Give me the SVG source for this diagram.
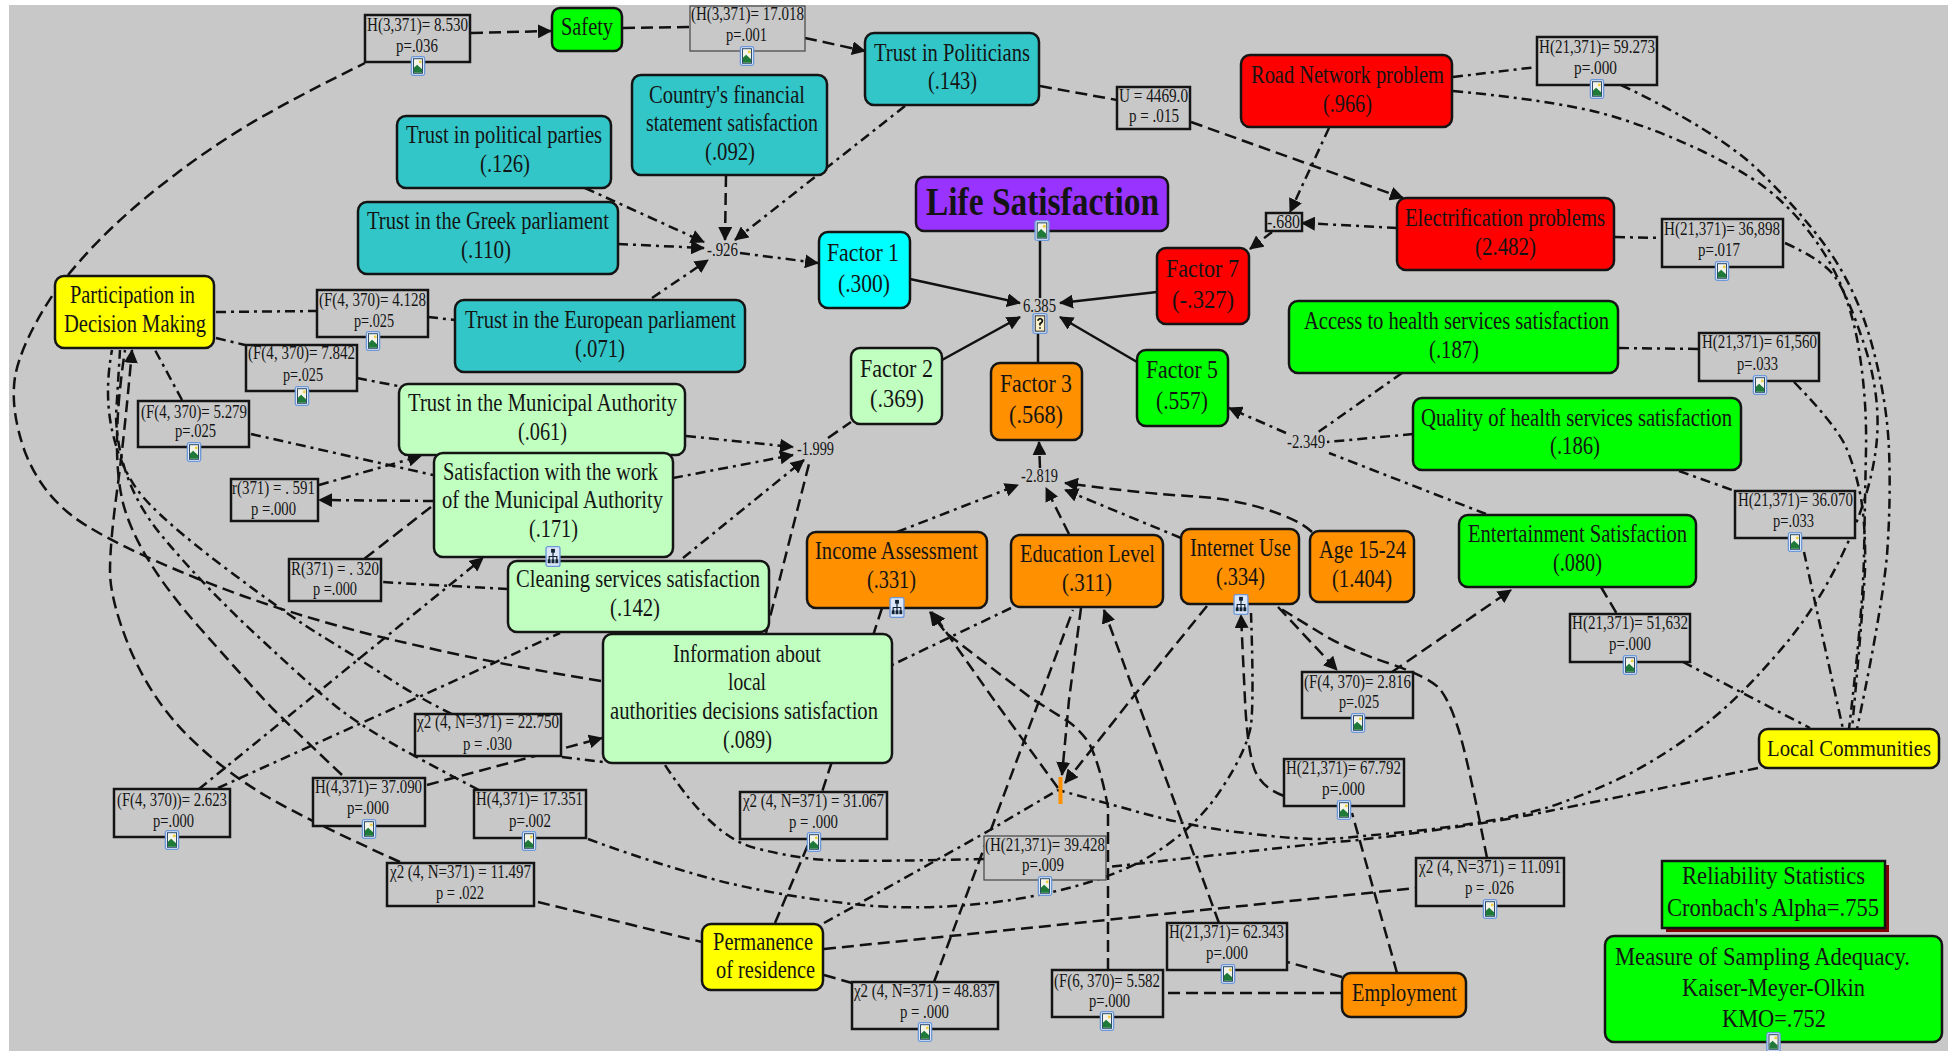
<svg xmlns="http://www.w3.org/2000/svg" width="1948" height="1051" viewBox="0 0 1948 1051">
<style>
text{font-family:"Liberation Serif","Times New Roman",serif;fill:#141414}
.n{font-size:25px}
.s{font-size:18.5px}
.t{font-size:41px;font-weight:bold}
.lc{font-size:22.5px}
.b{stroke:#141414;stroke-width:2.5}
.st{fill:#c8c8c8;stroke:#141414;stroke-width:2.5}
.thin{stroke:#444;stroke-width:1.2}
.teal{fill:#32c6c8}.red{fill:#ff0000}.green{fill:#00ff00}.orange{fill:#ff9000}.pale{fill:#c0ffc0}.yellow{fill:#ffff00}.purple{fill:#9933ff}.cyan{fill:#00ffff}
#connectors path{fill:none;stroke:#111;stroke-width:2.5}
#connectors .d{stroke-dasharray:12 6}
#connectors .dd{stroke-dasharray:10 5 3 5}
#connectors .ar{marker-end:url(#arrow)}
</style>
<defs>
<marker id="arrow" viewBox="0 0 14 14" refX="13" refY="7" markerWidth="14" markerHeight="14" markerUnits="userSpaceOnUse" orient="auto"><path d="M0 0L14 7L0 14z" fill="#111"/></marker>
<symbol id="pic" viewBox="0 0 16 22"><rect x=".7" y=".7" width="14.6" height="20.6" rx="2" fill="#dbe7f8" stroke="#6c97d8" stroke-width="1.4"/><rect x="3" y="3" width="10" height="16" fill="#f4f4e8" stroke="#1d3d5c"/><circle cx="10.5" cy="6.5" r="1.6" fill="#f0d040"/><path d="M3.5 18.5V13L7 9.5 12.5 14.5V18.5z" fill="#1f7a3a"/></symbol>
<symbol id="help" viewBox="0 0 16 22"><rect x=".7" y=".7" width="14.6" height="20.6" rx="2" fill="#dbe7f8" stroke="#6c97d8" stroke-width="1.4"/><rect x="3" y="3" width="10" height="16" fill="#f8f0c8" stroke="#222"/><path d="M5.5 8Q8 4 10.5 7.5 10.5 10 8 11V13M8 15V16.5" fill="none" stroke="#111" stroke-width="1.8"/></symbol>
<symbol id="tree" viewBox="0 0 16 22"><rect x=".7" y=".7" width="14.6" height="20.6" rx="2" fill="#dbe7f8" stroke="#6c97d8" stroke-width="1.4"/><path d="M8 6V10M4 15V11H12V15M8 10V15" fill="none" stroke="#123" stroke-width="1.2"/><rect x="6" y="3" width="4" height="4" fill="#123"/><rect x="2.500" y="14" width="3" height="4" fill="#123"/><rect x="6.500" y="14" width="3" height="4" fill="#123"/><rect x="10.500" y="14" width="3" height="4" fill="#123"/></symbol>
</defs>
<rect width="1948" height="1051" fill="#ffffff"/>
<rect id="background" x="9" y="5" width="1939" height="1046" fill="#c8c8c8"/>
<g id="connectors">
<path class="d ar" d="M471 33L551 31"/>
<path class="d" d="M623 28L689 27"/>
<path class="d ar" d="M805 38L865 51"/>
<path class="d" d="M68 275Q91 247 118 222Q145 197 176 174Q207 150 248 125Q290 100 365 63"/>
<path class="dd ar" d="M905 106L735 240"/>
<path class="d ar" d="M726 175L725 240"/>
<path class="dd ar" d="M585 188L704 242"/>
<path class="dd ar" d="M618 244L704 248"/>
<path class="dd ar" d="M652 298L708 260"/>
<path class="dd ar" d="M740 253L818 263"/>
<path class="ar" d="M910 279L1020 303"/>
<path d="M1040 239V298"/>
<path class="ar" d="M1157 292L1060 303"/>
<path class="ar" d="M942 360L1020 317"/>
<path d="M1038 363V333"/>
<path class="ar" d="M1137 362L1060 317"/>
<path class="d" d="M1040 86L1117 100"/>
<path class="d ar" d="M1191 122L1403 198"/>
<path class="dd ar" d="M1329 128L1290 212"/>
<path class="dd ar" d="M1397 228L1302 223"/>
<path class="dd ar" d="M1272 232L1250 249"/>
<path class="dd" d="M1453 77L1537 67"/>
<path class="dd" d="M1453 91Q1549 100 1601 113Q1652 127 1704 152Q1756 177 1782 202Q1809 227 1830 263Q1851 300 1859 350Q1867 400 1866 450Q1865 500 1864 555Q1863 610 1849 729"/>
<path class="dd" d="M1621 85Q1715 130 1756 168Q1797 207 1827 248Q1857 290 1872 345Q1887 400 1889 450Q1891 500 1887 555Q1882 610 1857 729"/>
<path class="dd" d="M1785 243Q1823 260 1835 277Q1847 293 1865 347Q1882 400 1876 448Q1870 497 1843 553Q1816 610 1777 654Q1740 697 1706 724Q1673 750 1633 772Q1591 793 1549 807Q1507 820 1433 829Q1358 837 1329 839Q1300 840 1245 833Q1189 827 1124 808L1058 790"/>
<path class="dd" d="M1794 382Q1834 423 1845 445Q1855 467 1861 498Q1866 530 1865 570Q1863 610 1852 729"/>
<path class="dd" d="M1804 552Q1816 607 1843 729"/>
<path class="dd" d="M1758 768Q1591 803 1549 811Q1507 820 1436 830Q1367 840 1333 842L1108 867"/>
<path class="dd" d="M588 839Q650 862 716 880Q783 897 862 905Q940 912 1023 898Q1106 883 1152 855Q1197 827 1222 788Q1247 750 1251 725Q1254 700 1251 613"/>
<path class="dd" d="M984 859Q857 862 828 860Q799 859 755 848Q712 837 665 765"/>
<path class="d ar" d="M1284 796Q1259 787 1253 765Q1247 743 1245 700L1241 615"/>
<path class="d" d="M1397 973L1352 813"/>
<path class="d" d="M1342 993H1163"/>
<path class="d" d="M1342 977L1287 962"/>
<path class="d ar" d="M1219 923L1104 610"/>
<path class="d ar" d="M1108 970V807Q1100 765 1089 743Q1080 730 1069 722L1031 698L946 633L930 612"/>
<path class="d" d="M934 982L1073 610"/>
<path class="d" d="M824 975L852 983"/>
<path class="d" d="M824 949L1106 920L1300 900L1416 888"/>
<path class="d" d="M1487 858Q1466 750 1457 725Q1449 700 1439 688Q1428 677 1391 664Q1354 652 1327 637L1278 607"/>
<path class="d ar" d="M1278 607L1337 670"/>
<path class="d ar" d="M1392 672L1511 590"/>
<path class="d" d="M1601 587L1617 614"/>
<path class="dd" d="M1683 662L1810 728"/>
<path class="dd" d="M1679 471L1735 491"/>
<path class="dd" d="M1619 348L1699 349"/>
<path class="dd" d="M1615 237L1662 238"/>
<path class="dd" d="M1402 373L1317 433"/>
<path class="dd" d="M1413 434L1327 442"/>
<path class="dd" d="M1486 514L1329 453"/>
<path class="dd ar" d="M1286 433L1229 408"/>
<path class="d ar" d="M1312 532Q1300 520 1265 509Q1230 498 1188 496Q1147 494 1065 483"/>
<path class="dd ar" d="M1181 538L1065 490"/>
<path class="d ar" d="M1069 534L1046 488"/>
<path class="dd ar" d="M897 532L1018 485"/>
<path class="d ar" d="M1040 468L1039 442"/>
<path class="dd ar" d="M686 436L793 447"/>
<path class="dd ar" d="M673 478L793 455"/>
<path class="dd ar" d="M683 558L804 460"/>
<path class="d" d="M828 438L851 422"/>
<path class="d" d="M766 633L810 460"/>
<path class="dd" d="M216 338L245 345"/>
<path class="dd" d="M357 378L398 386"/>
<path class="dd" d="M216 312L317 311"/>
<path class="dd" d="M428 317L455 320"/>
<path class="dd" d="M182 400L155 350"/>
<path class="dd" d="M251 434L433 475"/>
<path class="dd ar" d="M319 485L421 456"/>
<path class="dd ar" d="M433 501L319 500"/>
<path class="d" d="M431 507L364 559"/>
<path class="dd" d="M508 589L381 582"/>
<path class="d" d="M601 681Q489 663 385 638Q282 613 196 578Q110 543 75 518Q41 493 25 452Q10 410 15 377Q21 343 54 293"/>
<path class="dd ar" d="M199 789L483 558"/>
<path class="dd" d="M218 788L560 633"/>
<path class="dd" d="M452 714Q419 698 390 679Q361 660 325 638Q290 617 224 567Q158 517 139 492Q120 467 112 430Q104 393 112 350"/>
<path class="dd" d="M479 790Q415 757 388 741Q361 725 342 711Q323 697 265 643Q207 590 162 536Q118 483 116 416L120 350"/>
<path class="d" d="M342 775Q286 722 273 709Q261 697 199 627Q137 557 123 503Q110 450 125 350"/>
<path class="d ar" d="M400 862Q311 822 266 796Q222 770 186 734Q151 698 130 649Q110 600 110 571Q110 543 117 491Q124 440 132 350"/>
<path class="d" d="M538 902L702 942"/>
<path class="d ar" d="M427 785L602 738"/>
<path class="dd" d="M562 757L603 762"/>
<path class="d" d="M775 923L810 840"/>
<path class="d" d="M882 608L822 792"/>
<path class="dd" d="M824 923L853 907L990 830L1058 790"/>
<path class="dd" d="M1011 608L892 665"/>
<path class="d ar" d="M1081 608L1069 700L1062 775"/>
<path class="d ar" d="M1207 606L1133 697L1065 783"/>
<path class="d ar" d="M1058 788L994 700L932 612"/>
</g>
<rect id="orange-mark" x="1058.500" y="777" width="4" height="27" fill="#ff9000"/>
<g id="n-reliability"><rect x="1666" y="865" width="223" height="67" fill="#800000"/><rect class="b green" x="1662" y="861" width="223" height="67"/><text class="n" x="1682" y="884" textLength="183" lengthAdjust="spacingAndGlyphs">Reliability Statistics</text><text class="n" x="1667" y="916" textLength="212" lengthAdjust="spacingAndGlyphs">Cronbach's Alpha=.755</text></g>
<g id="n-kmo"><rect class="b green" x="1605" y="936" width="337" height="106" rx="9"/><text class="n" x="1615" y="965" textLength="295" lengthAdjust="spacingAndGlyphs">Measure of Sampling Adequacy.</text><text class="n" x="1682" y="996" textLength="183" lengthAdjust="spacingAndGlyphs">Kaiser-Meyer-Olkin</text><text class="n" x="1722" y="1027" textLength="104" lengthAdjust="spacingAndGlyphs">KMO=.752</text><use href="#pic" x="1766" y="1032" width="15" height="20"/></g>
<g id="n-safety"><rect class="b green" x="552" y="8" width="70" height="43" rx="8"/><text class="n" x="561" y="35" textLength="52" lengthAdjust="spacingAndGlyphs">Safety</text></g>
<g id="n-parties"><rect class="b teal" x="397" y="116" width="214" height="72" rx="9"/><text class="n" x="406" y="143" textLength="196" lengthAdjust="spacingAndGlyphs">Trust in political parties</text><text class="n" x="480" y="172" textLength="50" lengthAdjust="spacingAndGlyphs">(.126)</text></g>
<g id="n-greek"><rect class="b teal" x="358" y="202" width="260" height="72" rx="9"/><text class="n" x="367" y="229" textLength="242" lengthAdjust="spacingAndGlyphs">Trust in the Greek parliament</text><text class="n" x="461" y="258" textLength="50" lengthAdjust="spacingAndGlyphs">(.110)</text></g>
<g id="n-participation"><rect class="b yellow" x="55" y="276" width="159" height="72" rx="9"/><text class="n" x="70" y="303" textLength="125" lengthAdjust="spacingAndGlyphs">Participation in</text><text class="n" x="64" y="332" textLength="142" lengthAdjust="spacingAndGlyphs">Decision Making</text></g>
<g id="n-european"><rect class="b teal" x="455" y="300" width="290" height="72" rx="9"/><text class="n" x="465" y="328" textLength="271" lengthAdjust="spacingAndGlyphs">Trust in the European parliament</text><text class="n" x="575" y="357" textLength="50" lengthAdjust="spacingAndGlyphs">(.071)</text></g>
<g id="n-country"><rect class="b teal" x="632" y="75" width="195" height="100" rx="9"/><text class="n" x="649" y="103" textLength="156" lengthAdjust="spacingAndGlyphs">Country's financial</text><text class="n" x="646" y="131" textLength="172" lengthAdjust="spacingAndGlyphs">statement satisfaction</text><text class="n" x="705" y="160" textLength="50" lengthAdjust="spacingAndGlyphs">(.092)</text></g>
<g id="n-politicians"><rect class="b teal" x="865" y="33" width="174" height="72" rx="9"/><text class="n" x="874" y="61" textLength="156" lengthAdjust="spacingAndGlyphs">Trust in Politicians</text><text class="n" x="928" y="89" textLength="49" lengthAdjust="spacingAndGlyphs">(.143)</text></g>
<g id="n-life"><rect class="b purple" x="916" y="177" width="252" height="54" rx="8"/><text class="t" x="926" y="215" textLength="233" lengthAdjust="spacingAndGlyphs">Life Satisfaction</text><use href="#pic" x="1034" y="220" width="16" height="21"/></g>
<g id="n-factor1"><rect class="b cyan" x="819" y="232" width="91" height="76" rx="9"/><text class="n" x="827" y="261" textLength="72" lengthAdjust="spacingAndGlyphs">Factor 1</text><text class="n" x="838" y="292" textLength="52" lengthAdjust="spacingAndGlyphs">(.300)</text></g>
<g id="n-factor7"><rect class="b red" x="1157" y="248" width="92" height="76" rx="9"/><text class="n" x="1166" y="277" textLength="73" lengthAdjust="spacingAndGlyphs">Factor 7</text><text class="n" x="1172" y="308" textLength="62" lengthAdjust="spacingAndGlyphs">(-.327)</text></g>
<g id="n-road"><rect class="b red" x="1241" y="55" width="211" height="72" rx="9"/><text class="n" x="1251" y="83" textLength="193" lengthAdjust="spacingAndGlyphs">Road Network problem</text><text class="n" x="1323" y="112" textLength="49" lengthAdjust="spacingAndGlyphs">(.966)</text></g>
<g id="n-electrification"><rect class="b red" x="1397" y="198" width="217" height="72" rx="9"/><text class="n" x="1405" y="226" textLength="200" lengthAdjust="spacingAndGlyphs">Electrification problems</text><text class="n" x="1475" y="255" textLength="61" lengthAdjust="spacingAndGlyphs">(2.482)</text></g>
<g id="n-access"><rect class="b green" x="1289" y="301" width="329" height="72" rx="9"/><text class="n" x="1304" y="329" textLength="305" lengthAdjust="spacingAndGlyphs">Access to health services satisfaction</text><text class="n" x="1429" y="358" textLength="50" lengthAdjust="spacingAndGlyphs">(.187)</text></g>
<g id="n-quality"><rect class="b green" x="1413" y="398" width="328" height="72" rx="9"/><text class="n" x="1421" y="426" textLength="311" lengthAdjust="spacingAndGlyphs">Quality of health services satisfaction</text><text class="n" x="1550" y="454" textLength="50" lengthAdjust="spacingAndGlyphs">(.186)</text></g>
<g id="n-entertainment"><rect class="b green" x="1459" y="515" width="237" height="72" rx="9"/><text class="n" x="1468" y="542" textLength="219" lengthAdjust="spacingAndGlyphs">Entertainment Satisfaction</text><text class="n" x="1553" y="571" textLength="49" lengthAdjust="spacingAndGlyphs">(.080)</text></g>
<g id="n-age"><rect class="b orange" x="1310" y="531" width="104" height="71" rx="9"/><text class="n" x="1319" y="558" textLength="87" lengthAdjust="spacingAndGlyphs">Age 15-24</text><text class="n" x="1332" y="587" textLength="60" lengthAdjust="spacingAndGlyphs">(1.404)</text></g>
<g id="n-municipal"><rect class="b pale" x="399" y="384" width="286" height="71" rx="9"/><text class="n" x="408" y="411" textLength="269" lengthAdjust="spacingAndGlyphs">Trust in the Municipal Authority</text><text class="n" x="518" y="440" textLength="49" lengthAdjust="spacingAndGlyphs">(.061)</text></g>
<g id="n-satisfaction"><rect class="b pale" x="434" y="453" width="239" height="104" rx="9"/><text class="n" x="443" y="480" textLength="215" lengthAdjust="spacingAndGlyphs">Satisfaction with the work</text><text class="n" x="442" y="508" textLength="221" lengthAdjust="spacingAndGlyphs">of the Municipal Authority</text><text class="n" x="529" y="537" textLength="49" lengthAdjust="spacingAndGlyphs">(.171)</text></g>
<g id="n-cleaning"><rect class="b pale" x="508" y="561" width="261" height="71" rx="9"/><text class="n" x="516" y="587" textLength="244" lengthAdjust="spacingAndGlyphs">Cleaning services satisfaction</text><text class="n" x="610" y="616" textLength="50" lengthAdjust="spacingAndGlyphs">(.142)</text><use href="#tree" x="545" y="546" width="16" height="21"/></g>
<g id="n-information"><rect class="b pale" x="603" y="634" width="289" height="129" rx="9"/><text class="n" x="673" y="662" textLength="148" lengthAdjust="spacingAndGlyphs">Information about</text><text class="n" x="728" y="690" textLength="38" lengthAdjust="spacingAndGlyphs">local</text><text class="n" x="610" y="719" textLength="268" lengthAdjust="spacingAndGlyphs">authorities decisions satisfaction</text><text class="n" x="723" y="748" textLength="49" lengthAdjust="spacingAndGlyphs">(.089)</text></g>
<g id="n-factor2"><rect class="b pale" x="851" y="348" width="91" height="76" rx="9"/><text class="n" x="860" y="377" textLength="73" lengthAdjust="spacingAndGlyphs">Factor 2</text><text class="n" x="870" y="407" textLength="54" lengthAdjust="spacingAndGlyphs">(.369)</text></g>
<g id="n-factor3"><rect class="b orange" x="991" y="363" width="91" height="77" rx="9"/><text class="n" x="1000" y="392" textLength="72" lengthAdjust="spacingAndGlyphs">Factor 3</text><text class="n" x="1009" y="423" textLength="54" lengthAdjust="spacingAndGlyphs">(.568)</text></g>
<g id="n-factor5"><rect class="b green" x="1137" y="350" width="91" height="76" rx="9"/><text class="n" x="1146" y="378" textLength="72" lengthAdjust="spacingAndGlyphs">Factor 5</text><text class="n" x="1156" y="409" textLength="52" lengthAdjust="spacingAndGlyphs">(.557)</text></g>
<g id="n-income"><rect class="b orange" x="807" y="532" width="180" height="76" rx="9"/><text class="n" x="815" y="559" textLength="163" lengthAdjust="spacingAndGlyphs">Income Assessment</text><text class="n" x="867" y="588" textLength="49" lengthAdjust="spacingAndGlyphs">(.331)</text><use href="#tree" x="889" y="597" width="16" height="21"/></g>
<g id="n-education"><rect class="b orange" x="1011" y="535" width="152" height="72" rx="9"/><text class="n" x="1020" y="562" textLength="135" lengthAdjust="spacingAndGlyphs">Education Level</text><text class="n" x="1062" y="591" textLength="50" lengthAdjust="spacingAndGlyphs">(.311)</text></g>
<g id="n-internet"><rect class="b orange" x="1181" y="529" width="118" height="75" rx="9"/><text class="n" x="1190" y="556" textLength="101" lengthAdjust="spacingAndGlyphs">Internet Use</text><text class="n" x="1216" y="585" textLength="49" lengthAdjust="spacingAndGlyphs">(.334)</text><use href="#tree" x="1233" y="594" width="16" height="21"/></g>
<g id="n-permanence"><rect class="b yellow" x="702" y="924" width="121" height="66" rx="9"/><text class="n" x="713" y="950" textLength="100" lengthAdjust="spacingAndGlyphs">Permanence</text><text class="n" x="716" y="978" textLength="99" lengthAdjust="spacingAndGlyphs">of residence</text></g>
<g id="n-employment"><rect class="b orange" x="1342" y="973" width="124" height="44" rx="9"/><text class="n" x="1352" y="1001" textLength="105" lengthAdjust="spacingAndGlyphs">Employment</text></g>
<g id="n-local"><rect class="b yellow" x="1759" y="729" width="180" height="39" rx="9"/><text class="lc" x="1767" y="756" textLength="164" lengthAdjust="spacingAndGlyphs">Local Communities</text></g>
<g id="v-926"><text class="s" x="707" y="256" textLength="31" lengthAdjust="spacingAndGlyphs">-.926</text></g>
<g id="v-6385"><text class="s" x="1023" y="312" textLength="33" lengthAdjust="spacingAndGlyphs">6.385</text><use href="#help" x="1032" y="313" width="16" height="21"/></g>
<g id="v-1999"><text class="s" x="797" y="455" textLength="37" lengthAdjust="spacingAndGlyphs">-1.999</text></g>
<g id="v-2819"><text class="s" x="1021" y="482" textLength="37" lengthAdjust="spacingAndGlyphs">-2.819</text></g>
<g id="v-2349"><text class="s" x="1287" y="448" textLength="38" lengthAdjust="spacingAndGlyphs">-2.349</text></g>
<g id="v-680"><rect class="st" x="1266" y="213" width="36" height="18"/><text class="s" x="1267" y="228" textLength="33" lengthAdjust="spacingAndGlyphs">-.680</text></g>
<g id="s-safety-h"><rect class="st" x="365" y="15" width="105" height="47"/><text class="s" x="367" y="31" textLength="101" lengthAdjust="spacingAndGlyphs">H(3,371)= 8.530</text><text class="s" x="396" y="52" textLength="42" lengthAdjust="spacingAndGlyphs">p=.036</text><use href="#pic" x="410" y="56" width="16" height="20"/></g>
<g id="s-politicians-h"><rect class="st thin" x="690" y="6" width="115" height="45"/><text class="s" x="691" y="20" textLength="113" lengthAdjust="spacingAndGlyphs">(H(3,371)= 17.018</text><text class="s" x="726" y="41" textLength="41" lengthAdjust="spacingAndGlyphs">p=.001</text><use href="#pic" x="739" y="46" width="16" height="20"/></g>
<g id="s-u"><rect class="st" x="1117" y="87" width="73" height="42"/><text class="s" x="1119" y="102" textLength="69" lengthAdjust="spacingAndGlyphs">U = 4469.0</text><text class="s" x="1129" y="122" textLength="50" lengthAdjust="spacingAndGlyphs">p = .015</text></g>
<g id="s-59273"><rect class="st" x="1537" y="37" width="120" height="48"/><text class="s" x="1539" y="53" textLength="116" lengthAdjust="spacingAndGlyphs">H(21,371)= 59.273</text><text class="s" x="1574" y="74" textLength="43" lengthAdjust="spacingAndGlyphs">p=.000</text><use href="#pic" x="1589" y="79" width="16" height="20"/></g>
<g id="s-36898"><rect class="st" x="1662" y="219" width="121" height="48"/><text class="s" x="1664" y="235" textLength="116" lengthAdjust="spacingAndGlyphs">H(21,371)= 36,898</text><text class="s" x="1698" y="256" textLength="42" lengthAdjust="spacingAndGlyphs">p=.017</text><use href="#pic" x="1714" y="261" width="16" height="20"/></g>
<g id="s-4128"><rect class="st" x="317" y="290" width="111" height="47"/><text class="s" x="319" y="306" textLength="107" lengthAdjust="spacingAndGlyphs">(F(4, 370)= 4.128</text><text class="s" x="354" y="327" textLength="40" lengthAdjust="spacingAndGlyphs">p=.025</text><use href="#pic" x="365" y="331" width="16" height="20"/></g>
<g id="s-7842"><rect class="st" x="246" y="345" width="111" height="46"/><text class="s" x="248" y="359" textLength="107" lengthAdjust="spacingAndGlyphs">(F(4, 370)= 7.842</text><text class="s" x="283" y="381" textLength="40" lengthAdjust="spacingAndGlyphs">p=.025</text><use href="#pic" x="294" y="386" width="16" height="20"/></g>
<g id="s-5279"><rect class="st" x="138" y="401" width="111" height="46"/><text class="s" x="141" y="418" textLength="106" lengthAdjust="spacingAndGlyphs">(F(4, 370)= 5.279</text><text class="s" x="175" y="437" textLength="41" lengthAdjust="spacingAndGlyphs">p=.025</text><use href="#pic" x="186" y="442" width="16" height="20"/></g>
<g id="s-r591"><rect class="st" x="231" y="479" width="87" height="42"/><text class="s" x="232" y="494" textLength="83" lengthAdjust="spacingAndGlyphs">r(371) = . 591</text><text class="s" x="251" y="515" textLength="45" lengthAdjust="spacingAndGlyphs">p =.000</text></g>
<g id="s-r320"><rect class="st" x="289" y="559" width="92" height="42"/><text class="s" x="291" y="575" textLength="88" lengthAdjust="spacingAndGlyphs">R(371) = . 320</text><text class="s" x="313" y="595" textLength="44" lengthAdjust="spacingAndGlyphs">p =.000</text></g>
<g id="s-61560"><rect class="st" x="1699" y="333" width="120" height="48"/><text class="s" x="1702" y="348" textLength="115" lengthAdjust="spacingAndGlyphs">H(21,371)= 61,560</text><text class="s" x="1737" y="370" textLength="41" lengthAdjust="spacingAndGlyphs">p=.033</text><use href="#pic" x="1752" y="375" width="16" height="20"/></g>
<g id="s-36070"><rect class="st" x="1735" y="491" width="120" height="47"/><text class="s" x="1738" y="506" textLength="115" lengthAdjust="spacingAndGlyphs">H(21,371)= 36.070</text><text class="s" x="1773" y="527" textLength="41" lengthAdjust="spacingAndGlyphs">p=.033</text><use href="#pic" x="1787" y="532" width="16" height="20"/></g>
<g id="s-51632"><rect class="st" x="1570" y="614" width="120" height="48"/><text class="s" x="1572" y="629" textLength="116" lengthAdjust="spacingAndGlyphs">H(21,371)= 51,632</text><text class="s" x="1609" y="650" textLength="42" lengthAdjust="spacingAndGlyphs">p=.000</text><use href="#pic" x="1622" y="655" width="16" height="20"/></g>
<g id="s-2816"><rect class="st" x="1302" y="672" width="111" height="46"/><text class="s" x="1304" y="688" textLength="107" lengthAdjust="spacingAndGlyphs">(F(4, 370)= 2.816</text><text class="s" x="1339" y="708" textLength="40" lengthAdjust="spacingAndGlyphs">p=.025</text><use href="#pic" x="1350" y="713" width="16" height="20"/></g>
<g id="s-22750"><rect class="st" x="415" y="714" width="146" height="42"/><text class="s" x="417" y="728" textLength="142" lengthAdjust="spacingAndGlyphs">χ2 (4, N=371) = 22.750</text><text class="s" x="463" y="750" textLength="49" lengthAdjust="spacingAndGlyphs">p = .030</text></g>
<g id="s-2623"><rect class="st" x="114" y="789" width="116" height="48"/><text class="s" x="117" y="806" textLength="110" lengthAdjust="spacingAndGlyphs">(F(4, 370))= 2.623</text><text class="s" x="153" y="827" textLength="41" lengthAdjust="spacingAndGlyphs">p=.000</text><use href="#pic" x="164" y="830" width="16" height="20"/></g>
<g id="s-37090"><rect class="st" x="313" y="778" width="112" height="48"/><text class="s" x="315" y="793" textLength="107" lengthAdjust="spacingAndGlyphs">H(4,371)= 37.090</text><text class="s" x="347" y="814" textLength="42" lengthAdjust="spacingAndGlyphs">p=.000</text><use href="#pic" x="361" y="819" width="16" height="20"/></g>
<g id="s-17351"><rect class="st" x="474" y="790" width="112" height="48"/><text class="s" x="476" y="805" textLength="107" lengthAdjust="spacingAndGlyphs">H(4,371)= 17.351</text><text class="s" x="509" y="827" textLength="42" lengthAdjust="spacingAndGlyphs">p=.002</text><use href="#pic" x="521" y="831" width="16" height="20"/></g>
<g id="s-11497"><rect class="st" x="387" y="863" width="147" height="43"/><text class="s" x="390" y="878" textLength="141" lengthAdjust="spacingAndGlyphs">χ2 (4, N=371) = 11.497</text><text class="s" x="436" y="899" textLength="48" lengthAdjust="spacingAndGlyphs">p = .022</text></g>
<g id="s-31067"><rect class="st" x="740" y="792" width="147" height="47"/><text class="s" x="743" y="807" textLength="141" lengthAdjust="spacingAndGlyphs">χ2 (4, N=371) = 31.067</text><text class="s" x="789" y="828" textLength="49" lengthAdjust="spacingAndGlyphs">p = .000</text><use href="#pic" x="806" y="832" width="16" height="20"/></g>
<g id="s-39428"><rect class="st thin" x="984" y="836" width="122" height="44"/><text class="s" x="985" y="851" textLength="120" lengthAdjust="spacingAndGlyphs">(H(21,371)= 39.428</text><text class="s" x="1022" y="871" textLength="42" lengthAdjust="spacingAndGlyphs">p=.009</text><use href="#pic" x="1037" y="876" width="16" height="20"/></g>
<g id="s-48837"><rect class="st" x="852" y="982" width="146" height="47"/><text class="s" x="854" y="997" textLength="141" lengthAdjust="spacingAndGlyphs">χ2 (4, N=371) = 48.837</text><text class="s" x="900" y="1018" textLength="49" lengthAdjust="spacingAndGlyphs">p = .000</text><use href="#pic" x="917" y="1022" width="16" height="20"/></g>
<g id="s-5582"><rect class="st" x="1052" y="970" width="111" height="47"/><text class="s" x="1054" y="987" textLength="106" lengthAdjust="spacingAndGlyphs">(F(6, 370)= 5.582</text><text class="s" x="1089" y="1007" textLength="41" lengthAdjust="spacingAndGlyphs">p=.000</text><use href="#pic" x="1099" y="1011" width="16" height="20"/></g>
<g id="s-62343"><rect class="st" x="1167" y="923" width="120" height="47"/><text class="s" x="1169" y="938" textLength="115" lengthAdjust="spacingAndGlyphs">H(21,371)= 62.343</text><text class="s" x="1206" y="959" textLength="42" lengthAdjust="spacingAndGlyphs">p=.000</text><use href="#pic" x="1220" y="964" width="16" height="20"/></g>
<g id="s-67792"><rect class="st" x="1284" y="759" width="120" height="47"/><text class="s" x="1286" y="774" textLength="115" lengthAdjust="spacingAndGlyphs">H(21,371)= 67.792</text><text class="s" x="1322" y="795" textLength="43" lengthAdjust="spacingAndGlyphs">p=.000</text><use href="#pic" x="1336" y="800" width="16" height="20"/></g>
<g id="s-11091"><rect class="st" x="1416" y="858" width="148" height="48"/><text class="s" x="1419" y="873" textLength="142" lengthAdjust="spacingAndGlyphs">χ2 (4, N=371) = 11.091</text><text class="s" x="1465" y="894" textLength="49" lengthAdjust="spacingAndGlyphs">p = .026</text><use href="#pic" x="1482" y="899" width="16" height="20"/></g>
</svg>
